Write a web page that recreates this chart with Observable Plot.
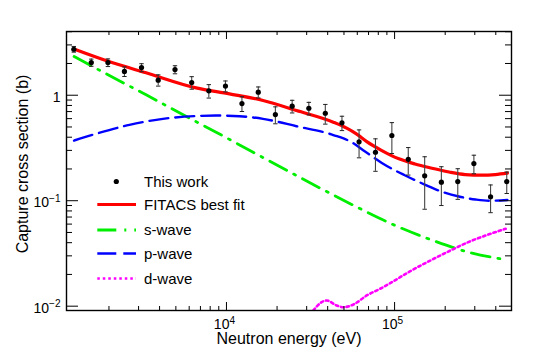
<!DOCTYPE html>
<html><head><meta charset="utf-8">
<script src="https://cdn.jsdelivr.net/npm/d3@7"></script>
<script src="https://cdn.jsdelivr.net/npm/@observablehq/plot@0.6"></script>
<style>body{margin:0;background:#fff;} #chart{width:556px;height:355px;}</style>
</head><body><div id="chart"></div>
<script>
// ---- Measured data (This work) ----
const energy = [1236,1570,1972,2472,3124,3926,4941,6211,7852,9863,12360,15460,19540,24590,30900,38720,48640,61480,76960,96340,120600,151000,189800,237600,296300,372400,464700];
const xsec   = [2.73,2.04,2.04,1.68,1.83,1.39,1.75,1.32,1.10,1.22,0.834,1.07,0.656,0.787,0.753,0.675,0.547,0.362,0.288,0.415,0.247,0.172,0.150,0.152,0.225,0.109,0.152];
const xsecErr= [0.17,0.16,0.17,0.175,0.16,0.17,0.153,0.18,0.16,0.145,0.133,0.128,0.12,0.108,0.103,0.143,0.085,0.107,0.098,0.135,0.072,0.089,0.060,0.049,0.045,0.032,0.035];

// ---- FITACS best fit ----
const fitE = [1236,2104,3325,6592,10420,16500,26090,43210,51880,59550,68330,83980,106100,132200,167000,211100,263000,332300,397300,468800];
const fitV = [2.741,2.028,1.631,1.175,1.031,0.891,0.716,0.555,0.487,0.428,0.363,0.299,0.2496,0.2228,0.2032,0.187,0.177,0.1745,0.177,0.1823];

// ---- s-wave ----
const sE = [1240,2012,3327,5385,8680,14050,37660,60950,100800,169300,289600,427300];
const sV = [2.327,1.537,1.009,0.6665,0.4459,0.2945,0.1269,0.0856,0.0582,0.04195,0.0318,0.02813];

// ---- p-wave ----
const pE = [1240,1673,2648,4187,6620,8680,11960,16500,26090,43210,55570,66740,83980,115700,152300,191700,241200,303000,365800,468800];
const pV = [0.372,0.4306,0.524,0.5974,0.635,0.642,0.632,0.5974,0.5083,0.4196,0.3584,0.2927,0.2277,0.1734,0.1415,0.1215,0.1096,0.1026,0.0998,0.1015];

// ---- d-wave ----
const dE = [32820,36790,39410,45210,49580,56900,68330,82030,94120,123900,163200,214800,282900,372400,458000];
const dV = [0.0091,0.0109,0.01132,0.01015,0.00978,0.01038,0.01263,0.01462,0.01652,0.02147,0.0271,0.0337,0.0413,0.0486,0.0542];

// ---- Axis ticks ----
const xMajor = [1e4, 1e5];
const xMajorLabels = ["10^4", "10^5"];
const xMinor = [2000,3000,4000,5000,6000,7000,8000,9000,20000,30000,40000,50000,60000,70000,80000,90000,200000,300000,400000];
const yMajor = [0.01, 0.1, 1];
const yMajorLabels = ["10^\u22122", "10^\u22121", "1"];
const yMinor = [0.02,0.03,0.04,0.05,0.06,0.07,0.08,0.09,0.2,0.3,0.4,0.5,0.6,0.7,0.8,0.9,2,3,4];

// ---- Legend ----
const legendLabels = ["This work", "FITACS best fit", "s-wave", "p-wave", "d-wave"];

const points = energy.map((e,i)=>({e, v:xsec[i], err:xsecErr[i]}));
const toRows = (E,V)=>E.map((e,i)=>({e, v:V[i]}));

const W = 556, H = 355, mL = 66, mR = 45, mT = 31, mB = 45;
const pw = W - mL - mR, ph = H - mT - mB;

const capSymbol = {draw(ctx){ ctx.moveTo(-2.2,0); ctx.lineTo(2.2,0); }};

const COLORS = {fit:"#ff0000", s:"#00ee00", p:"#0000ff", d:"#ff00ff"};
const DASH = {s:"19,8,2,8", p:"19,7", d:"2.5,3"};

const plot = Plot.plot({
  width: W, height: H,
  marginLeft: mL, marginRight: mR, marginTop: mT, marginBottom: mB,
  x: {type: "log", domain: [1118, 496000]},
  y: {type: "log", domain: [0.0091, 4.02]},
  style: {fontFamily: "'Liberation Sans', Arial, sans-serif", fontSize: "14px", background: "white", color: "black"},
  marks: [
    // curves
    Plot.line(toRows(sE,sV), {x:"e", y:"v", stroke:COLORS.s, strokeWidth:2.8, strokeDasharray:DASH.s, curve:"monotone-x", clip:true}),
    Plot.line(toRows(pE,pV), {x:"e", y:"v", stroke:COLORS.p, strokeWidth:2.4, strokeDasharray:DASH.p, curve:"monotone-x", clip:true}),
    Plot.line(toRows(dE,dV), {x:"e", y:"v", stroke:COLORS.d, strokeWidth:2.6, strokeDasharray:DASH.d, curve:"monotone-x", clip:true}),
    Plot.line(toRows(fitE,fitV), {x:"e", y:"v", stroke:COLORS.fit, strokeWidth:3.2, curve:"monotone-x", clip:true}),
    // data with error bars
    Plot.ruleX(points, {x:"e", y1:d=>d.v-d.err, y2:d=>d.v+d.err, stroke:"#444", strokeWidth:1.1}),
    Plot.dot(points, {x:"e", y:d=>d.v+d.err, symbol:capSymbol, stroke:"#222", fill:"none", strokeWidth:1}),
    Plot.dot(points, {x:"e", y:d=>d.v-d.err, symbol:capSymbol, stroke:"#222", fill:"none", strokeWidth:1}),
    Plot.dot(points, {x:"e", y:"v", r:2.6, fill:"black", stroke:"none"}),
    // inward ticks
    Plot.ruleY(yMajor, {insetRight: pw-12, stroke:"black"}),
    Plot.ruleY(yMinor, {insetRight: pw-6, stroke:"black"}),
    Plot.ruleY(yMajor, {insetLeft: pw-12, stroke:"black"}),
    Plot.ruleY(yMinor, {insetLeft: pw-6, stroke:"black"}),
    Plot.ruleX(xMajor, {insetTop: ph-8, stroke:"black"}),
    Plot.ruleX(xMinor, {insetTop: ph-4, stroke:"black"}),
    Plot.ruleX(xMajor, {insetBottom: ph-8, stroke:"black"}),
    Plot.ruleX(xMinor, {insetBottom: ph-4, stroke:"black"}),
    Plot.frame({stroke:"black", strokeWidth:1.4}),
    // tick labels
    Plot.axisX({ticks: xMajor, tickSize: 0, tickPadding: 9, tickFormat: (d)=>xMajorLabels[xMajor.indexOf(d)], label: null, fontSize: 14, dx: -2}),
    Plot.axisY({ticks: yMajor, tickSize: 0, tickPadding: 6, tickFormat: (d)=>yMajorLabels[yMajor.indexOf(d)], label: null, fontSize: 14, dy: 2}),
    // axis titles
    Plot.text(["Neutron energy (eV)"], {text:d=>d, frameAnchor:"bottom", dy:28, fontSize:16, lineAnchor:"middle", textAnchor:"middle"}),
    Plot.text(["Capture cross section (b)"], {text:d=>d, frameAnchor:"left", dx:-44, dy:-7, rotate:-90, fontSize:16, lineAnchor:"middle", textAnchor:"middle"})
  ]
});

// superscripts for 10^n labels
d3.select(plot).selectAll("text").each(function(){
  const t = this.textContent;
  const m = /^10\^(.+)$/.exec(t);
  if (m) {
    this.textContent = "10";
    d3.select(this).append("tspan").attr("dy","-0.55em").attr("font-size","0.72em").text(m[1]);
  }
});

// legend
const svg = d3.select(plot);
const lg = svg.append("g").attr("font-family","'Liberation Sans', Arial, sans-serif").attr("font-size",15).attr("text-anchor","start");
const rowsY = [181.5, 204.5, 230, 253.5, 278.5];
const lx1 = 97.3, lx2 = 136, tx = 144;
lg.append("circle").attr("cx",116.3).attr("cy",rowsY[0]).attr("r",2.6).attr("fill","black");
const legendStyles = [null,
  {stroke:COLORS.fit, w:3.2, dash:null},
  {stroke:COLORS.s, w:2.8, dash:DASH.s},
  {stroke:COLORS.p, w:2.4, dash:DASH.p},
  {stroke:COLORS.d, w:2.6, dash:DASH.d}];
legendStyles.forEach((s,i)=>{
  if (!s) return;
  const l = lg.append("line").attr("x1",lx1).attr("x2",lx2).attr("y1",rowsY[i]).attr("y2",rowsY[i])
    .attr("stroke",s.stroke).attr("stroke-width",s.w);
  if (s.dash) l.attr("stroke-dasharray", s.dash);
});
legendLabels.forEach((t,i)=>{
  lg.append("text").attr("x",tx).attr("y",rowsY[i]).attr("dy","0.36em").attr("text-anchor","start").attr("fill","black").text(t);
});

document.getElementById("chart").appendChild(plot);
</script></body></html>
